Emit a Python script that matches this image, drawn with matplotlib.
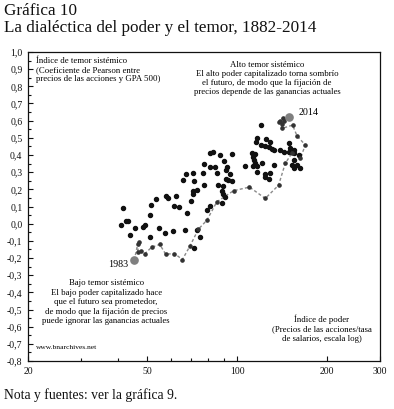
import matplotlib
matplotlib.use("Agg")
import matplotlib.pyplot as plt
from matplotlib.ticker import FixedLocator, NullFormatter

plt.rcParams["font.family"] = ["Liberation Serif", "DejaVu Serif"]

INK = "#111111"
GREY = "#8a8a8a"

# 1882-1982: power index (log x), systemic fear index (y)
POWER_OLD = [
    41.6, 41.0, 42.4, 43.1, 43.9, 45.6, 48.6, 49.2, 51.2, 51.4,
    51.2, 53.6, 54.9, 57.4, 57.9, 58.8, 61.2, 61.7, 62.3, 64.0,
    65.7, 67.2, 67.0, 68.2, 70.2, 71.1, 72.0, 71.0, 71.4, 73.3,
    73.3, 75.2, 72.0, 76.6, 77.3, 77.7, 79.2, 80.9, 81.2, 83.0,
    81.4, 84.1, 85.7, 86.6, 87.7, 90.5, 91.4, 92.4, 94.3, 91.9,
    93.0, 96.0, 96.0, 89.8, 88.9, 89.5, 91.2, 89.1,
    120.0, 116.4, 115.8, 125.0, 129.0, 120.0, 124.1, 128.2, 130.6, 133.0,
    138.5, 142.8, 148.4, 150.4, 154.3, 155.4, 148.4, 112.0, 114.9, 112.9,
    114.0, 114.9, 106.4, 112.9, 116.4, 121.0, 132.3, 152.4, 158.4, 160.3,
    154.3, 162.5, 154.3, 116.4, 123.4, 129.0, 124.1, 127.3,
]
FEAR_OLD = [
    0.094, -0.006, 0.015, 0.016, -0.067, -0.026, -0.020, -0.009, 0.050, 0.108,
    -0.077, 0.143, -0.026, -0.054, 0.162, 0.147, -0.044, 0.103, 0.162, 0.096,
    0.254, 0.291, -0.036, 0.063, 0.134, 0.294, 0.248, 0.172, 0.191, 0.199,
    -0.034, -0.077, -0.139, 0.294, 0.347, 0.227, 0.079, 0.102, 0.409, 0.419,
    0.331, 0.331, 0.293, 0.224, 0.399, 0.366, 0.312, 0.333, 0.287, 0.258,
    0.252, 0.250, 0.405, 0.221, 0.191, 0.172, 0.155, 0.120,
    0.574, 0.497, 0.477, 0.491, 0.477, 0.458, 0.452, 0.444, 0.433, 0.429,
    0.429, 0.419, 0.468, 0.438, 0.429, 0.409, 0.419, 0.409, 0.405, 0.389,
    0.370, 0.351, 0.335, 0.335, 0.335, 0.351, 0.341, 0.341, 0.341, 0.399,
    0.370, 0.322, 0.322, 0.302, 0.289, 0.296, 0.269, 0.258,
]

# 1983-2014, joined by the dashed line
POWER_NEW = [
    45.3, 46.5, 47.1, 46.5, 47.7, 49.2, 51.8, 55.1, 57.7, 61.7,
    65.6, 69.6, 74.2, 79.2, 85.5, 97.2, 109.9, 124.1, 137.5, 144.7,
    152.4, 162.5, 168.9, 158.4, 153.1, 141.1, 139.3, 142.2, 138.2, 140.9,
    143.6, 148.4,
]
FEAR_NEW = [
    -0.213, -0.120, -0.105, -0.163, -0.160, -0.174, -0.137, -0.121, -0.178, -0.174,
    -0.209, -0.129, -0.032, 0.020, 0.127, 0.192, 0.213, 0.147, 0.224, 0.351,
    0.411, 0.380, 0.458, 0.512, 0.574, 0.555, 0.600, 0.617, 0.595, 0.580,
    0.600, 0.623,
]

X_MAJOR = [20, 50, 100, 200, 300]
X_MINOR = [30, 40, 60, 70, 80, 90]
Y_TICKS = [round(-0.8 + 0.1 * i, 1) for i in range(19)]

fig = plt.figure(figsize=(3.94, 4.09), dpi=100)
ax = fig.add_axes([28 / 394, 1 - 361 / 409, 352 / 394, 309 / 409])

ax.set_xscale("log")
ax.set_xlim(20, 300)
ax.set_ylim(-0.8, 1.0)
ax.xaxis.set_major_locator(FixedLocator(X_MAJOR))
ax.xaxis.set_minor_locator(FixedLocator(X_MINOR))
ax.xaxis.set_minor_formatter(NullFormatter())
ax.set_xticklabels([str(v) for v in X_MAJOR])
ax.set_yticks(Y_TICKS)
ax.set_yticklabels([f"{v:.1f}".replace(".", ",") for v in Y_TICKS])
ax.yaxis.set_minor_locator(FixedLocator([v + 0.05 for v in Y_TICKS[:-1]]))
ax.tick_params(which="both", direction="in", top=False, right=False,
               labelsize=7, colors=INK, width=0.8)
ax.tick_params(which="major", length=3.5, pad=4)
ax.tick_params(which="minor", length=2)
for s in ax.spines.values():
    s.set_linewidth(0.9)
    s.set_color(INK)

ax.plot(POWER_OLD, FEAR_OLD, "o", ms=2.9, color=INK, mec=INK, zorder=3)
ax.plot(POWER_NEW, FEAR_NEW, ls=(0, (2.2, 1.6)), lw=1.0, color=GREY, zorder=2)
ax.plot(POWER_NEW[1:-1], FEAR_NEW[1:-1], "o", ms=2.3, color="#333333", zorder=3)
ax.plot([POWER_NEW[0], POWER_NEW[-1]], [FEAR_NEW[0], FEAR_NEW[-1]], "o",
        ms=5.2, color="#7f7f7f", zorder=4)

ax.annotate("2014", (POWER_NEW[-1], FEAR_NEW[-1]), xytext=(10, 4),
            textcoords="offset pixels", fontsize=7.2, ha="left", va="center")
ax.annotate("1983", (POWER_NEW[0], FEAR_NEW[0]), xytext=(-6, -4),
            textcoords="offset pixels", fontsize=7.2, ha="right", va="center")

fs = 6.3
ax.text(0.023, 0.985, "Índice de temor sistémico\n(Coeficiente de Pearson entre\n"
        "precios de las acciones y GPA 500)", transform=ax.transAxes,
        fontsize=fs, ha="left", va="top", linespacing=1.2)
ax.text(0.679, 0.972, "Alto temor sistémico\nEl alto poder capitalizado torna sombrío\n"
        "el futuro, de modo que la fijación de\nprecios depende de las ganancias actuales",
        transform=ax.transAxes, fontsize=fs, ha="center", va="top", linespacing=1.2)
ax.text(0.222, 0.265, "Bajo temor sistémico\nEl bajo poder capitalizado hace\n"
        "que el futuro sea prometedor,\nde modo que la fijación de precios\n"
        "puede ignorar las ganancias actuales", transform=ax.transAxes,
        fontsize=fs, ha="center", va="top", linespacing=1.25)
ax.text(0.023, 0.045, "www.bnarchives.net", transform=ax.transAxes,
        fontsize=5.4, ha="left", va="center")
ax.text(0.835, 0.15, "Índice de poder\n(Precios de las acciones/tasa\n"
        "de salarios, escala log)", transform=ax.transAxes,
        fontsize=fs, ha="center", va="top", linespacing=1.25)

fig.text(4 / 394, 1 - 3 / 409, "Gráfica 10\nLa dialéctica del poder y el temor, 1882-2014",
         fontsize=12.3, ha="left", va="top", linespacing=1.1, color=INK)
fig.text(4 / 394, 1 - 395 / 409, "Nota y fuentes: ver la gráfica 9.",
         fontsize=9.8, ha="left", va="center", color=INK)

fig.savefig("out.png", dpi=100, facecolor="white")
